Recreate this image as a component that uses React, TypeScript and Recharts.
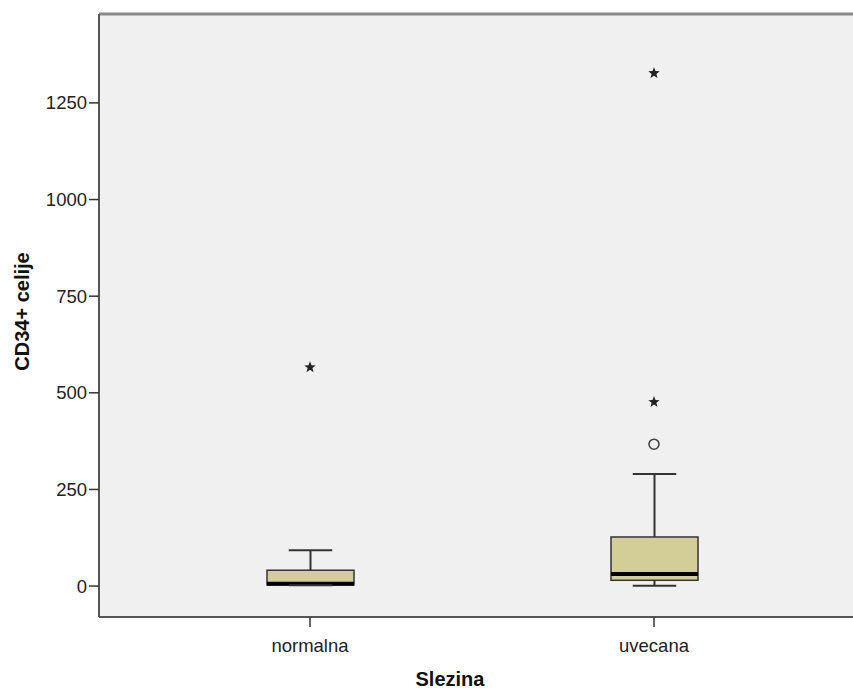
import {
  ComposedChart,
  Bar,
  Line,
  XAxis,
  YAxis,
  CartesianGrid,
  ReferenceLine,
} from 'recharts'

const categories = ['normalna', 'uvecana']
const minValues = [2, 1]
const q1Values = [3, 15]
const medianValues = [6, 31]
const q3Values = [41, 127]
const maxValues = [93, 290]
// extreme outliers (stars) and mild outliers (circles) per group
const extremeOutliers: number[][] = [[566], [1327, 476]]
const mildOutliers: number[][] = [[], [367]]

const yTicks = [0, 250, 500, 750, 1000, 1250]
const yDomain = [-80, 1480]

const FONT = '"Liberation Sans", Arial, sans-serif'
const BOX_FILL = '#d3ce97'
const INK = '#333333'
const PLOT_BG = '#f0f0f0'

const data = categories.map((name, i) => ({
  name,
  min: minValues[i],
  q1: q1Values[i],
  median: medianValues[i],
  q3: q3Values[i],
  max: maxValues[i],
  star0: extremeOutliers[i][0] ?? null,
  star1: extremeOutliers[i][1] ?? null,
  circle0: mildOutliers[i][0] ?? null,
}))

function BoxShape(props: any) {
  const { x, y, width, height, payload } = props
  const { min, q1, median, q3, max } = payload
  // linear scale between whisker ends that Recharts already placed
  const toY = (v: number) => y + (height * (max - v)) / (max - min)
  const cx = x + width / 2
  const capHalf = width / 4
  return (
    <g>
      <line x1={cx} x2={cx} y1={toY(max)} y2={toY(q3)} stroke={INK} strokeWidth={2} />
      <line x1={cx} x2={cx} y1={toY(q1)} y2={toY(min)} stroke={INK} strokeWidth={2} />
      <line x1={cx - capHalf} x2={cx + capHalf} y1={toY(max)} y2={toY(max)} stroke={INK} strokeWidth={2} />
      <rect
        x={x}
        y={toY(q3)}
        width={width}
        height={toY(q1) - toY(q3)}
        fill={BOX_FILL}
        stroke={INK}
        strokeWidth={1.5}
      />
      <line x1={x} x2={x + width} y1={toY(median)} y2={toY(median)} stroke="#000" strokeWidth={4} />
      <line x1={cx - capHalf} x2={cx + capHalf} y1={toY(min)} y2={toY(min)} stroke={INK} strokeWidth={2} />
    </g>
  )
}

function starPath(cx: number, cy: number, r: number) {
  const pts: string[] = []
  for (let k = 0; k < 10; k++) {
    const rad = k % 2 === 0 ? r : r * 0.42
    const a = -Math.PI / 2 + (k * Math.PI) / 5
    pts.push(`${cx + rad * Math.cos(a)},${cy + rad * Math.sin(a)}`)
  }
  return `M${pts.join('L')}Z`
}

function StarDot(props: any) {
  const { cx, cy, value, index, dataKey } = props
  if (value == null || cx == null || cy == null || isNaN(cy)) return <g key={`${dataKey}-${index}`} />
  return <path key={`${dataKey}-${index}`} d={starPath(cx, cy, 6)} fill="#222" />
}

function CircleDot(props: any) {
  const { cx, cy, value, index, dataKey } = props
  if (value == null || cx == null || cy == null || isNaN(cy)) return <g key={`${dataKey}-${index}`} />
  return <circle key={`${dataKey}-${index}`} cx={cx} cy={cy} r={5} fill="none" stroke="#444" strokeWidth={1.6} />
}

function YTitle(props: any) {
  const { viewBox } = props
  const x = 29
  const y = viewBox.y + viewBox.height / 2 - 4
  return (
    <text
      x={x}
      y={y}
      transform={`rotate(-90, ${x}, ${y})`}
      textAnchor="middle"
      fontFamily={FONT}
      fontWeight="bold"
      fontSize={20}
      fill="#111"
    >
      CD34+ celije
    </text>
  )
}

function XTitle(props: any) {
  const { viewBox } = props
  return (
    <text
      x={viewBox.x + viewBox.width / 2 - 26}
      y={686}
      textAnchor="middle"
      fontFamily={FONT}
      fontWeight="bold"
      fontSize={20}
      fill="#111"
    >
      Slezina
    </text>
  )
}

export default function App() {
  return (
    <div style={{ position: 'absolute', left: 0, top: 0, background: '#fff' }}>
      <ComposedChart
        width={853}
        height={691}
        data={data}
        margin={{ top: 14, right: 0, bottom: 0, left: 0 }}
      >
        <CartesianGrid fill={PLOT_BG} horizontal={false} vertical={false} />
        <XAxis
          dataKey="name"
          height={74}
          padding={{ left: 39, right: 27 }}
          stroke="#555"
          axisLine={{ stroke: '#555', strokeWidth: 2 }}
          tickLine={{ stroke: INK, strokeWidth: 1.5 }}
          tickSize={10}
          tickMargin={12}
          tick={{ fontSize: 18.5, fill: '#222', fontFamily: FONT }}
          label={<XTitle />}
        />
        <YAxis
          type="number"
          domain={yDomain}
          ticks={yTicks}
          allowDataOverflow
          width={99}
          stroke="#555"
          axisLine={{ stroke: '#555', strokeWidth: 2 }}
          tickLine={{ stroke: INK, strokeWidth: 1.5 }}
          tickSize={10}
          tickMargin={2}
          tick={{ fontSize: 18.5, fill: '#222', fontFamily: FONT }}
          label={<YTitle />}
        />
        <ReferenceLine y={yDomain[1]} stroke="#8a8a8a" strokeWidth={3} />
        <Bar
          dataKey={(d: any) => [d.min, d.max]}
          barSize={87}
          shape={<BoxShape />}
          isAnimationActive={false}
        />
        <Line
          dataKey="star0"
          stroke="none"
          dot={(p: any) => <StarDot {...p} />}
          activeDot={false}
          isAnimationActive={false}
        />
        <Line
          dataKey="star1"
          stroke="none"
          dot={(p: any) => <StarDot {...p} />}
          activeDot={false}
          isAnimationActive={false}
        />
        <Line
          dataKey="circle0"
          stroke="none"
          dot={(p: any) => <CircleDot {...p} />}
          activeDot={false}
          isAnimationActive={false}
        />
      </ComposedChart>
    </div>
  )
}
